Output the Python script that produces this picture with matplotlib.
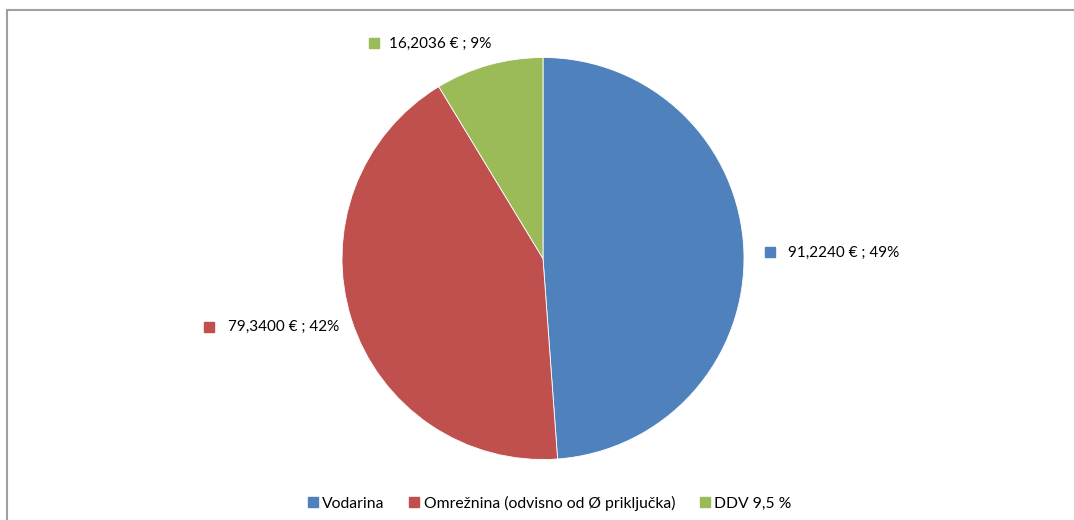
import matplotlib.pyplot as plt
from matplotlib.lines import Line2D

categories = ['Vodarina', 'Omrežnina (odvisno od Ø priključka)', 'DDV 9,5 %']
values = [91.2240, 79.3400, 16.2036]
value_labels = ['91,2240 €', '79,3400 €', '16,2036 €']
colors = ['#4F81BD', '#C0504D', '#9BBB59']

plt.rcParams['font.family'] = ['Lato', 'DejaVu Sans']

W, H = 1074, 520
fig = plt.figure(figsize=(W / 100, H / 100), dpi=100)

# pie centre (543, 258) px, radius 201 px
cx, cy, r = 543, 258.5, 201
ax = fig.add_axes([(cx - r) / W, (H - cy - r) / H, 2 * r / W, 2 * r / H])
ax.pie(values, colors=colors, startangle=90, counterclock=False, radius=1,
       wedgeprops=dict(edgecolor='white', linewidth=0.6))
ax.set_xlim(-1, 1)
ax.set_ylim(-1, 1)
ax.set_aspect('equal')
ax.axis('off')

total = sum(values)
# label positions (in pie radius units): marker x, text x, y
label_pos = [(1.13, 1.22, 0.03), (-1.66, -1.565, -0.34), (-0.84, -0.765, 1.07)]
for v, lab, c, (mx, tx, ty) in zip(values, value_labels, colors, label_pos):
    pct = round(v / total * 100)
    ax.plot([mx], [ty], marker='s', color=c, markersize=7, clip_on=False)
    ax.text(tx, ty, f'{lab} ; {pct}%', fontsize=11, va='center', ha='left',
            color='black')

handles = [Line2D([], [], marker='s', linestyle='none', color=c, markersize=7)
           for c in colors]
fig.legend(handles, categories, loc='center', bbox_to_anchor=(0.512, (H - 503) / H),
           ncol=3, frameon=False, fontsize=11.3, handlelength=0.6,
           handletextpad=0.3, columnspacing=1.6)

# chart area frame (only top & left edge visible)
fig.add_artist(Line2D([6.5 / W, 6.5 / W], [0, (H - 10) / H], color='#a0a0a0', lw=1.5))
fig.add_artist(Line2D([6.5 / W, 1], [(H - 10) / H, (H - 10) / H], color='#a0a0a0', lw=1.5))

fig.savefig('out.png', dpi=100)
